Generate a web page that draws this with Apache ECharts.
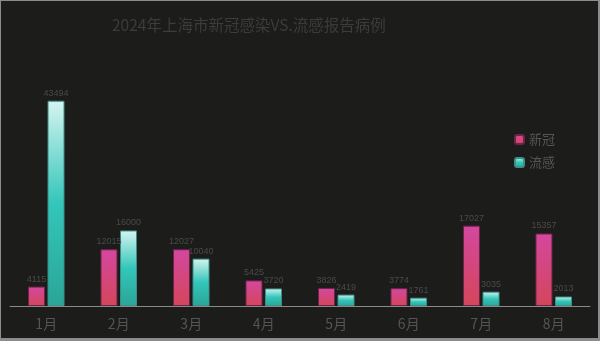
<!DOCTYPE html>
<html>
<head>
<meta charset="utf-8">
<script src="https://cdn.jsdelivr.net/npm/echarts@6/dist/echarts.min.js"></script>
<style>
  html, body { margin: 0; padding: 0; background: #8c8c8c; }
  #chart { position: absolute; left: 1px; top: 1px; width: 597px; height: 337px; background: #1c1c1a; }
</style>
</head>
<body>
<div id="chart"></div>
<script>
const months = ['1月', '2月', '3月', '4月', '5月', '6月', '7月', '8月'];
const covid = [4115, 12015, 12027, 5425, 3826, 3774, 17027, 15357];
const flu = [43494, 16000, 10040, 3720, 2419, 1761, 3035, 2013];

const pinkFill = new echarts.graphic.LinearGradient(0, 0, 0, 1, [
  { offset: 0, color: '#d4479f' },
  { offset: 1, color: '#d4465a' },
]);
const cyanFill = new echarts.graphic.LinearGradient(0, 0, 0, 1, [
  { offset: 0, color: '#d6f4f0' },
  { offset: 0.5, color: '#33c6ba' },
  { offset: 1, color: '#2aa597' },
]);

const chart = echarts.init(document.getElementById('chart'));
chart.setOption({
  backgroundColor: '#1c1c1a',
  title: {
    text: '2024年上海市新冠感染VS.流感报告病例',
    left: 106,
    top: 11,
    textStyle: { color: '#3c3c3c', fontSize: 15.5, fontWeight: 'normal', fontFamily: 'Noto Sans CJK SC' },
  },
  legend: {
    orient: 'vertical',
    left: 508,
    top: 127,
    itemWidth: 9,
    itemHeight: 9,
    itemGap: 10,
    textStyle: { color: '#555', fontSize: 13, fontFamily: 'Noto Sans CJK SC' },
    data: ['新冠', '流感'],
  },
  grid: { left: 9, right: 8, top: 69, bottom: 32 },
  xAxis: {
    type: 'category',
    data: months,
    axisLine: { lineStyle: { color: '#8a8a8a', width: 1 } },
    axisTick: { show: false },
    axisLabel: { color: '#555', fontSize: 14, margin: 11, fontFamily: 'Noto Sans CJK SC' },
  },
  yAxis: { type: 'value', min: 0, max: 50000, show: false, splitLine: { show: false } },
  series: [{
    name: '新冠',
    type: 'bar',
    barWidth: 17,
    barGap: '15%',
    data: covid,
    itemStyle: { color: pinkFill, borderColor: '#6e2448', borderWidth: 1 },
    label: { show: true, position: 'top', distance: 3, color: '#4a4a4a', fontSize: 9 },
  }, {
    name: '流感',
    type: 'bar',
    barWidth: 17,
    data: flu,
    itemStyle: { color: cyanFill, borderColor: '#3d8f88', borderWidth: 1 },
    label: { show: true, position: 'top', distance: 3, color: '#4a4a4a', fontSize: 9 },
  }],
});
</script>
</body>
</html>
